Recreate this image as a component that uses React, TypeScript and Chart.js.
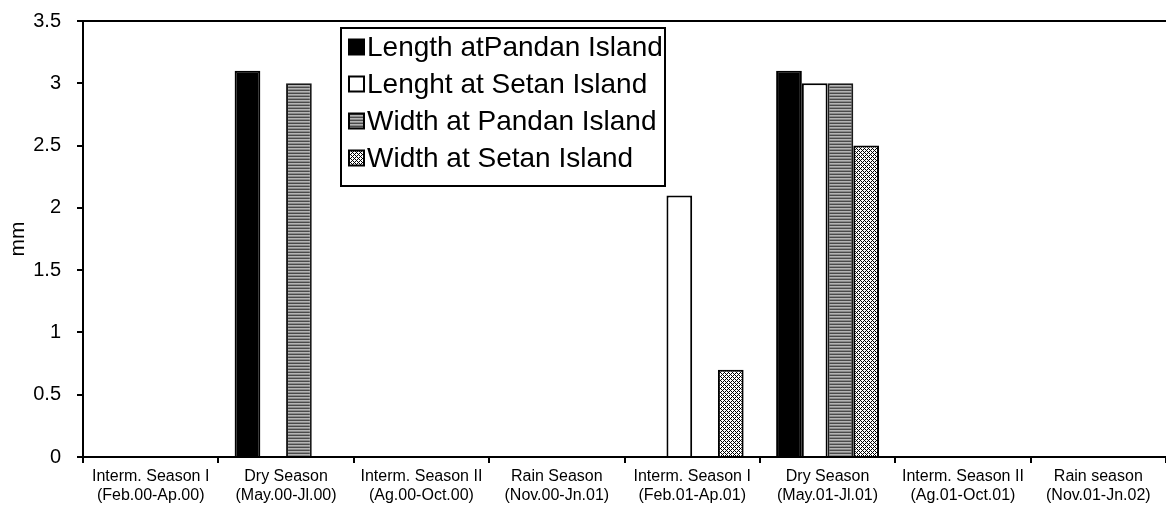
import React, { useEffect, useRef } from "react";
import { Chart, registerables } from "chart.js";

Chart.register(...registerables);

const categories: string[][] = [
  ["Interm. Season I", "(Feb.00-Ap.00)"],
  ["Dry Season", "(May.00-Jl.00)"],
  ["Interm. Season II", "(Ag.00-Oct.00)"],
  ["Rain Season", "(Nov.00-Jn.01)"],
  ["Interm. Season I", "(Feb.01-Ap.01)"],
  ["Dry Season", "(May.01-Jl.01)"],
  ["Interm. Season II", "(Ag.01-Oct.01)"],
  ["Rain season", "(Nov.01-Jn.02)"],
];

const seriesNames = [
  "Length atPandan Island",
  "Lenght at Setan Island",
  "Width at Pandan Island",
  "Width at Setan Island",
];

const lengthPandan = [null, 3.1, null, null, null, 3.1, null, null];
const lengthSetan = [null, null, null, null, 2.1, 3.0, null, null];
const widthPandan = [null, 3.0, null, null, null, 3.0, null, null];
const widthSetan = [null, null, null, null, 0.7, 2.5, null, null];

const yMin = 0;
const yMax = 3.5;
const yStep = 0.5;
const yTitle = "mm";

const FONT = "'Liberation Sans', Arial, sans-serif";

function makeStripePattern(ctx: CanvasRenderingContext2D): CanvasPattern | string {
  const c = document.createElement("canvas");
  c.width = 4;
  c.height = 3;
  const g = c.getContext("2d")!;
  const rows = ["#4a4a4a", "#b4b4b4", "#8a8a8a"];
  rows.forEach((col, i) => {
    g.fillStyle = col;
    g.fillRect(0, i, 4, 1);
  });
  return ctx.createPattern(c, "repeat") || "#808080";
}

function makeCheckPattern(ctx: CanvasRenderingContext2D): CanvasPattern | string {
  const c = document.createElement("canvas");
  c.width = 4;
  c.height = 4;
  const g = c.getContext("2d")!;
  g.fillStyle = "#ffffff";
  g.fillRect(0, 0, 4, 4);
  g.fillStyle = "#000000";
  for (let y = 0; y < 4; y++) {
    for (let x = 0; x < 4; x++) {
      if ((x + y) % 2 === 0 && !(x % 4 === 2 && y % 4 === 0) && !(x % 4 === 0 && y % 4 === 2)) g.fillRect(x, y, 1, 1);
    }
  }
  return ctx.createPattern(c, "repeat") || "#b0b0b0";
}

export default function App() {
  const canvasRef = useRef<HTMLCanvasElement | null>(null);

  useEffect(() => {
    const canvas = canvasRef.current;
    if (!canvas) return;
    const ctx = canvas.getContext("2d")!;
    const stripe = makeStripePattern(ctx);
    const check = makeCheckPattern(ctx);

    const fills = ["#000000", "#ffffff", stripe, check];
    const borders = ["#000000", "#000000", "#1a1a1a", "#000000"];
    const seriesData = [lengthPandan, lengthSetan, widthPandan, widthSetan];

    const frameAndLegend = {
      id: "frameAndLegend",
      afterDraw(chart: any) {
        const c = chart.ctx as CanvasRenderingContext2D;
        const a = chart.chartArea;
        c.save();
        c.strokeStyle = "#000";
        c.lineWidth = 2;
        c.beginPath();
        c.moveTo(a.left, a.top);
        c.lineTo(a.right, a.top);
        c.stroke();

        const bx = 341;
        const by = 28;
        const bw = 324;
        const bh = 158;
        c.fillStyle = "#fff";
        c.fillRect(bx, by, bw, bh);
        c.strokeStyle = "#000";
        c.lineWidth = 2;
        c.strokeRect(bx, by, bw, bh);

        c.font = `28px ${FONT}`;
        c.textBaseline = "middle";
        c.textAlign = "left";
        const rowY = [47, 84, 121, 158];
        seriesNames.forEach((name, i) => {
          const y = rowY[i];
          const mx = 349;
          const ms = 15;
          c.fillStyle = fills[i] as any;
          c.fillRect(mx, y - ms / 2, ms, ms);
          c.strokeStyle = "#000";
          c.lineWidth = 2;
          c.strokeRect(mx, y - ms / 2, ms, ms);
          c.fillStyle = "#000";
          c.fillText(name, 367, y + 1);
        });
        c.restore();
      },
    };

    const chart = new Chart(canvas, {
      type: "bar",
      data: {
        labels: categories,
        datasets: seriesNames.map((name, i) => ({
          label: name,
          data: seriesData[i],
          backgroundColor: fills[i] as any,
          borderColor: borders[i],
          borderWidth: 2,
          borderSkipped: "start" as const,
          categoryPercentage: 0.76,
          barPercentage: 1.0,
        })),
      },
      options: {
        responsive: false,
        animation: false,
        layout: { padding: { top: 21, right: 0, left: 0, bottom: 0 } },
        plugins: {
          legend: { display: false },
          tooltip: { enabled: false },
          title: { display: false },
        },
        scales: {
          x: {
            type: "category",
            offset: true,
            grid: {
              offset: true,
              drawOnChartArea: false,
              drawTicks: true,
              tickLength: 6,
              color: "#000",
              lineWidth: 2,
            },
            border: { color: "#000", width: 2 },
            ticks: {
              color: "#000",
              font: { family: FONT, size: 16, lineHeight: 1.2 },
              padding: 4,
              maxRotation: 0,
              autoSkip: false,
            },
            afterFit: (s: any) => {
              s.height = 51;
              s.paddingLeft = 0;
              s.paddingRight = 0;
            },
          },
          y: {
            min: yMin,
            max: yMax,
            ticks: {
              stepSize: yStep,
              color: "#000",
              font: { family: FONT, size: 20 },
              padding: 16,
              callback: (v: any) => String(Number(v)),
            },
            grid: {
              drawOnChartArea: false,
              drawTicks: true,
              tickLength: 6,
              color: "#000",
              lineWidth: 2,
            },
            border: { color: "#000", width: 2 },
            title: {
              display: true,
              text: yTitle,
              color: "#000",
              font: { family: FONT, size: 21 },
              padding: { top: 6, bottom: 0 },
            },
            afterFit: (s: any) => {
              s.width = 83;
              s.paddingTop = 0;
              s.paddingBottom = 0;
            },
          },
        },
      },
      plugins: [frameAndLegend],
    });

    return () => {
      chart.destroy();
    };
  }, []);

  return (
    <div style={{ position: "absolute", left: 0, top: 0, width: 1166, height: 508, background: "#fff" }}>
      <canvas ref={canvasRef} width={1166} height={508} style={{ display: "block" }} />
    </div>
  );
}
